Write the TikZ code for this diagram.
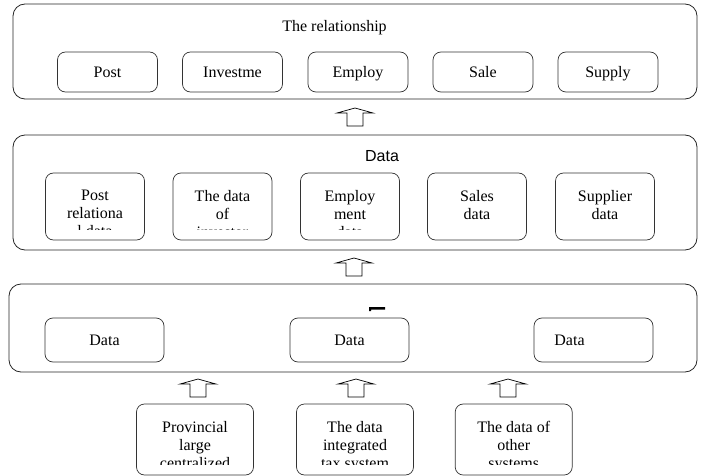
\documentclass[tikz,border=0pt]{standalone}
\usepackage{fontspec}
\setmainfont{Liberation Serif}
\newfontfamily\sansdata{Liberation Sans}
\usetikzlibrary{fit,calc}
\tikzset{
  outer/.style={draw=black!85, line width=0.8pt, rounded corners=12pt, inner sep=0pt},
  inbox/.style={draw=black!80, line width=0.7pt, rounded corners=8pt, inner sep=0pt, text height=12pt, text depth=1pt},
  linetext/.style={align=center, anchor=north, inner sep=0pt},
  blk/.style={draw=black, line width=0.7pt, fill=white, line join=miter},
}
\newcommand{\blockup}[1]{\draw[blk] (#1) ++(0,-9) -- ++(18,5) -- ++(-10,0) -- ++(0,13) -- ++(-16,0) -- ++(0,-13) -- ++(-10,0) -- cycle;}
\begin{document}
\begin{tikzpicture}[x=1pt, y=-1pt, font={\fontsize{16}{18}\selectfont}]
    \useasboundingbox (0,0) rectangle (704,476);
    \node[outer, fit={(13,4)(697,99)}] (rel) {};
    \node[outer, fit={(13,135)(697,250)}] (dat) {};
    \node[outer, fit={(9,284)(697,372)}] (src) {};
    \node[anchor=base] (relt) at (334.5,31.5) {The relationship};
    \node[anchor=base, font={\sansdata\fontsize{16}{18}\selectfont}] (datt) at (382,161.7) {Data};
    \foreach \x/\t [count=\i] in {107.5/Post, 232.5/Investme, 358/Employ, 483/Sale, 608/Supply}
        \node[inbox, minimum width=100pt, minimum height=40pt] (r\i) at (\x,72) {\t};
    \foreach \x/\t [count=\i] in {95/{Post\\relationa\\l data}, 222.5/{The data\\of\\investor}, 350/{Employ\\ment\\data}, 477/{Sales\\data}, 605/{Supplier\\data}}{
        \node[inbox, minimum width=99pt, minimum height=67pt] (e\i) at (\x,206.5) {};
        \begin{scope}
            \clip (\x-50,173) rectangle (\x+50,229.3);
            \node[linetext] (et\i) at (\x,190) {\t};
        \end{scope}
    }
    \node[inbox, minimum width=119pt, minimum height=44pt] (d1) at (104.5,340) {Data};
    \node[inbox, minimum width=119pt, minimum height=44pt] (d2) at (349.5,340) {Data};
    \node[inbox, minimum width=119pt, minimum height=44pt] (d3) at (593.5,340) {};
    \node[text height=12pt, text depth=1pt, inner sep=0pt] (d3t) at (569.5,340) {Data};
    \fill[black] (369,307) -- (385,307) -- (385,309.5) -- (371,309.5) -- (371,311) -- (369,311) -- cycle;
    \foreach \x/\ax/\t [count=\i] in {195/198/{Provincial\\large\\centralized}, 355/356/{The data\\integrated\\tax system}, 513.7/508/{The data of\\other\\systems}}{
        \node[inbox, minimum width=117pt, minimum height=71pt] (s\i) at (\x,439.5) {};
        \begin{scope}
            \clip (\x-58,404) rectangle (\x+58,464.3);
            \node[linetext] (st\i) at (\x,421.5) {\t};
        \end{scope}
        \path ($(src.south)!0.5!(s\i.north)$) coordinate (m\i);
        \coordinate (a\i) at (\ax,0 |- m\i);
        \blockup{a\i}
    }
    \coordinate (up1) at ($(rel.south)!0.5!(dat.north)$);
    \coordinate (up2) at ($(dat.south)!0.5!(src.north)$);
    \blockup{up1}
    \blockup{up2}
\end{tikzpicture}
\end{document}
